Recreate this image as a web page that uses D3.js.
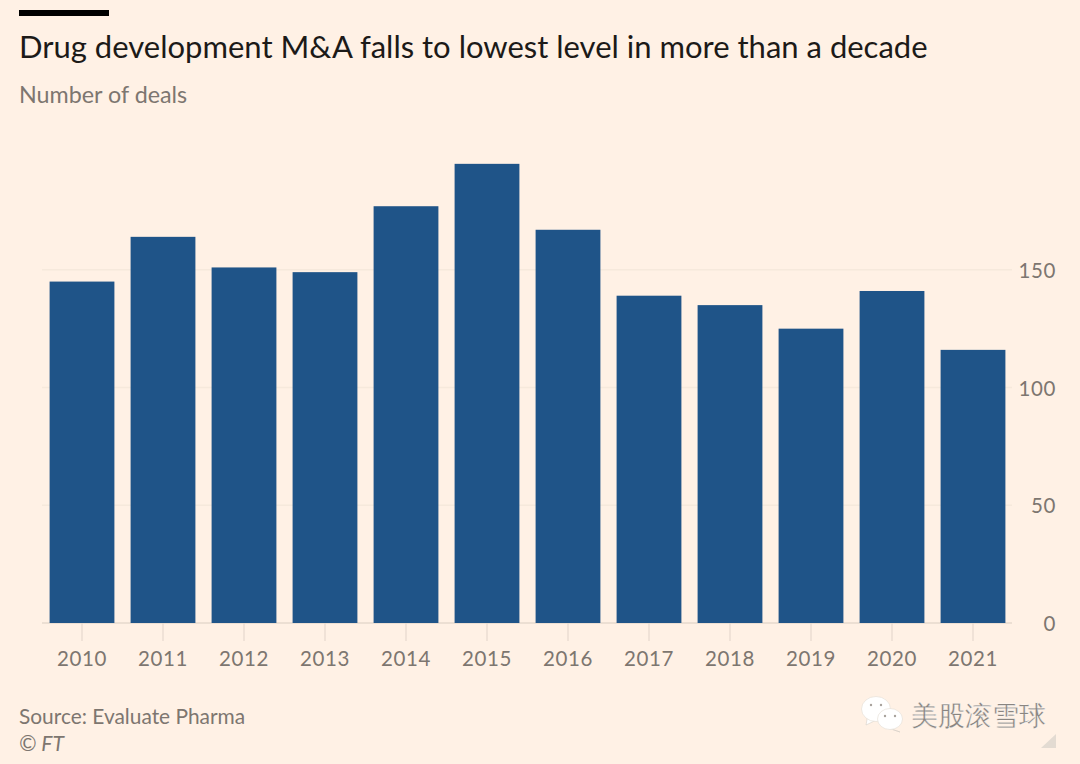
<!DOCTYPE html>
<html>
<head>
<meta charset="utf-8">
<script src="https://cdn.jsdelivr.net/npm/d3@7"></script>
<style>
  html, body { margin: 0; padding: 0; background: #fff1e5; }
  svg { display: block; }
  text { font-family: Lato, "Noto Sans", sans-serif; }
</style>
</head>
<body>
<div id="chart"></div>
<script>
const years = ["2010", "2011", "2012", "2013", "2014", "2015", "2016", "2017", "2018", "2019", "2020", "2021"];
const deals = [145, 164, 151, 149, 177, 195, 167, 139, 135, 125, 141, 116];
const yTicks = [0, 50, 100, 150];

const width = 1080, height = 764;
const svg = d3.select("#chart").append("svg")
  .attr("width", width)
  .attr("height", height);

svg.append("rect").attr("width", width).attr("height", height).attr("fill", "#fff1e5");

const x = d3.scaleBand().domain(years).range([41.5, 1013.5]).paddingInner(0.2).paddingOuter(0.1);
const y = d3.scaleLinear().domain([0, 150]).range([623, 269.8]);

// gridlines + right axis labels
const yAxis = d3.axisRight(y).tickValues(yTicks).tickSize(0).tickPadding(0);
const gy = svg.append("g").attr("transform", "translate(1019,1)").call(yAxis);
gy.select(".domain").remove();
gy.selectAll("text")
  .attr("x", 37)
  .attr("text-anchor", "end")
  .attr("font-size", 20.5)
  .attr("letter-spacing", 0.6)
  .attr("fill", "#7d7670");

svg.append("g").selectAll("line").data(yTicks.filter(d => d > 0)).join("line")
  .attr("x1", 42).attr("x2", 1012)
  .attr("y1", d => y(d)).attr("y2", d => y(d))
  .attr("stroke", "#f6e9dc").attr("stroke-width", 1.5);

// bottom axis
const xAxis = d3.axisBottom(x).tickSize(18).tickPadding(10);
const gx = svg.append("g").attr("transform", `translate(0,${y(0)})`).call(xAxis);
gx.select(".domain").remove();
gx.selectAll("line").attr("stroke", "#e6d9cd").attr("stroke-width", 1.2);
gx.selectAll("text")
  .attr("font-size", 20.5)
  .attr("letter-spacing", 0.6)
  .attr("fill", "#7d7670");

svg.append("line")
  .attr("x1", 42).attr("x2", 1012)
  .attr("y1", y(0)).attr("y2", y(0))
  .attr("stroke", "#e6d9cd").attr("stroke-width", 1.5);

// bars
svg.append("g").selectAll("rect").data(deals).join("rect")
  .attr("x", (d, i) => x(years[i]))
  .attr("y", d => y(d))
  .attr("width", x.bandwidth())
  .attr("height", d => y(0) - y(d))
  .attr("fill", "#1f5488");

// header
svg.append("rect").attr("x", 19).attr("y", 10).attr("width", 90).attr("height", 6).attr("fill", "#000");
svg.append("text").attr("x", 19).attr("y", 58)
  .attr("font-size", 31).attr("fill", "#1c1a18")
  .text("Drug development M&A falls to lowest level in more than a decade");
svg.append("text").attr("x", 19).attr("y", 103)
  .attr("font-size", 23.3).attr("fill", "#7d7670")
  .text("Number of deals");

// footer
svg.append("text").attr("x", 19).attr("y", 724)
  .attr("font-size", 20.9).attr("fill", "#7d7670")
  .text("Source: Evaluate Pharma");
svg.append("text").attr("x", 19).attr("y", 751)
  .attr("font-size", 21).attr("font-style", "italic").attr("fill", "#7d7670")
  .text("© FT");

// wechat watermark
const wm = svg.append("g");
const bubble = (cx, cy, rx, ry, tx, ty) => {
  wm.append("path")
    .attr("d", `M${cx - rx * 0.6},${cy + ry * 0.7} L${tx},${ty} L${cx},${cy + ry * 0.9} Z`)
    .attr("fill", "#fff").attr("stroke", "#cfc8c0").attr("stroke-width", 0.5);
  wm.append("ellipse").attr("cx", cx).attr("cy", cy).attr("rx", rx).attr("ry", ry)
    .attr("fill", "#fff").attr("stroke", "#e3dbd2").attr("stroke-width", 0.6);
};
bubble(876, 709, 14.5, 12.5, 866, 725);
bubble(890, 719, 12.5, 10.5, 900, 732);
[[871, 705], [881, 705], [885, 716], [895, 716]].forEach(p => {
  wm.append("circle").attr("cx", p[0]).attr("cy", p[1]).attr("r", 1.2).attr("fill", "#a8a29c");
});
wm.append("text").attr("x", 911).attr("y", 725)
  .attr("font-family", '"Noto Sans CJK SC"').attr("font-size", 26.5)
  .attr("fill", "#8a8580").attr("stroke", "#fff").attr("stroke-width", 0.3)
  .text("美股滚雪球");
wm.append("path").attr("d", "M1056,734 L1056,748 L1041,748 Z").attr("fill", "#e3dbd2");
</script>
</body>
</html>
